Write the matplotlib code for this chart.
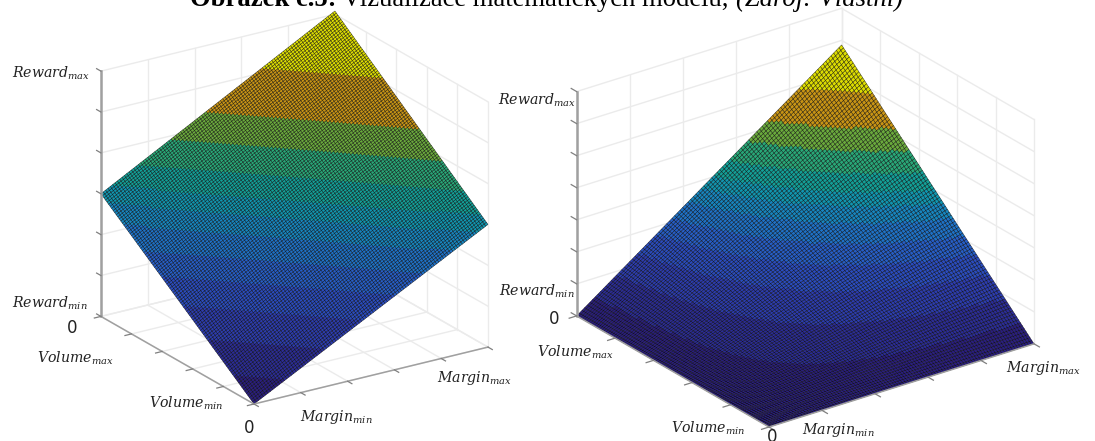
import numpy as np
import matplotlib
matplotlib.use("Agg")
import matplotlib.pyplot as plt
from matplotlib.colors import ListedColormap, BoundaryNorm
from mpl_toolkits.mplot3d import proj3d

W, H = 1095, 441
plt.rcParams['mathtext.fontset'] = 'dejavuserif'

# band limits (fraction of the peak reward) and band colours
levels = [0, .068, .15, .23, .30, .36, .42, .47, .515, .574, .645, .72, .84, 1.001]
band_colors = ['#2a1e80', '#2b2c98', '#2c3cb0', '#2a4cc0', '#265ec8', '#1e72c8', '#1686c0',
               '#1096b0', '#12a098', '#28a878', '#6aaa3c', '#c89414', '#dcdc00']
cmap = ListedColormap(band_colors)
norm = BoundaryNorm(levels, cmap.N)

# surface corner values: (margin_min/volume_min, margin_max, volume_max, both_max)
left_corners = [0, 3, 3, 6.08]
right_corners = [0, 0, 0, 5.86]
left_peak, right_peak = 6.08, 5.86
left_ztop, right_ztop = 6, 7
n_cells = 100
x_ticks = [0, 1, 2, 3, 4, 5]
y_ticks = [0, 1, 2, 3, 4, 5]

GRID = '#ebebeb'
AXC = '#a0a0a0'


def panel(elev, azim, aspect, corners, peak, ztop, O, M):
    ax = fig.add_axes([0, 0, .5, .5], projection='3d', proj_type='ortho')
    ax.computed_zorder = False
    ax.view_init(elev=elev, azim=azim)
    ax.set_box_aspect(aspect)
    ax.set_xlim(0, 5, view_margin=0)
    ax.set_ylim(0, 5, view_margin=0)
    ax.set_zlim(0, ztop, view_margin=0)
    ax.set_axis_off()
    ax.patch.set_alpha(0)

    # walls and floor grid
    for t in x_ticks:
        ax.plot([t, t], [5, 5], [0, ztop], color=GRID, lw=1, zorder=1)
        ax.plot([t, t], [0, 5], [0, 0], color=GRID, lw=1, zorder=1)
    for t in y_ticks:
        ax.plot([5, 5], [t, t], [0, ztop], color=GRID, lw=1, zorder=1)
        ax.plot([0, 5], [t, t], [0, 0], color=GRID, lw=1, zorder=1)
    for t in range(ztop + 1):
        ax.plot([0, 5], [5, 5], [t, t], color=GRID, lw=1, zorder=1)
        ax.plot([5, 5], [0, 5], [t, t], color=GRID, lw=1, zorder=1)

    # surface
    u = np.linspace(0, 5, n_cells + 1)
    X, Y = np.meshgrid(u, u)
    a, b, c, d = corners
    s, r = X / 5, Y / 5
    Z = a * (1 - s) * (1 - r) + b * s * (1 - r) + c * (1 - s) * r + d * s * r
    zc = (Z[:-1, :-1] + Z[1:, 1:]) / 2 / peak
    ax.plot_surface(X, Y, Z, facecolors=cmap(norm(zc)), rstride=1, cstride=1,
                    shade=False, edgecolor='#000000', linewidth=0.25, zorder=2)

    # axes lines and ticks
    ax.plot([0, 0], [5, 5], [0, ztop], color=AXC, lw=1.8, zorder=3)
    ax.plot([0, 5], [0, 0], [0, 0], color=AXC, lw=1.1, zorder=3)
    ax.plot([0, 0], [0, 5], [0, 0], color=AXC, lw=1.1, zorder=3)
    for t in x_ticks:
        ax.plot([t, t], [0, -.14], [0, 0], color='#808080', lw=.9, zorder=3)
    for t in y_ticks:
        ax.plot([0, -.14], [t, t], [0, 0], color='#808080', lw=.9, zorder=3)
    for t in range(ztop + 1):
        ax.plot([0, 0], [5, 5.14], [t, t], color='#808080', lw=.9, zorder=3)

    # place the axes so that the box lands on the target pixels
    P = ax.get_proj()
    xo, yo, _ = proj3d.proj_transform(0, 0, 0, P)
    xm, _, _ = proj3d.proj_transform(5, 0, 0, P)
    x0, x1 = ax.viewLim.intervalx
    y0, y1 = ax.viewLim.intervaly
    S = (M[0] - O[0]) / ((xm - xo) / (x1 - x0))
    L = O[0] - S * (xo - x0) / (x1 - x0)
    B = (H - O[1]) - S * (yo - y0) / (y1 - y0)
    ax.set_position([L / W, B / H, S / W, S / H])
    return ax


def label(x, y, s, size=10.5, **kw):
    fig.text(x / W, 1 - y / H, s, ha='center', va='center', fontsize=size, color='#222222', **kw)


fig = plt.figure(figsize=(W / 100, H / 100), dpi=100)
panel(21.9, 236.9, (280, 281, 265), left_corners, left_peak, left_ztop, (254, 404), (488, 347))
panel(25.2, 233.6, (328, 323, 247), right_corners, right_peak, right_ztop, (769, 427), (1034, 344))

for x, y, s in [(51, 73, '$Reward_{max}$'), (50, 303, '$Reward_{min}$'), (75, 358, '$Volume_{max}$'),
                (186, 403, '$Volume_{min}$'), (336, 417, '$Margin_{min}$'), (475, 378, '$Margin_{max}$'),
                (537, 100, '$Reward_{max}$'), (537, 291, '$Reward_{min}$'), (575, 352, '$Volume_{max}$'),
                (708, 428, '$Volume_{min}$'), (838, 430, '$Margin_{min}$'), (1044, 368, '$Margin_{max}$')]:
    label(x, y, s, size=10.2)
for x, y in [(72, 328), (249, 428), (554, 319), (772, 437)]:
    label(x, y, '0', size=12, family='DejaVu Sans')

# caption, cut by the top edge as in the source
t1 = fig.text(190 / W, 1 - 6 / H, 'Obrázek č.5:', family='Liberation Serif', weight='bold',
              fontsize=19.15, color='black', va='baseline')
a2 = plt.annotate(' Vizualizace matematických modelů, ', xy=(1, 0), xycoords=t1, family='Liberation Serif',
                  fontsize=19.15, color='black', va='bottom', annotation_clip=False)
a3 = plt.annotate('(Zdroj: Vlastní)', xy=(1, 0), xycoords=a2, family='Liberation Serif', style='italic',
                  fontsize=19.15, color='black', va='bottom', annotation_clip=False)

fig.savefig('out.png', dpi=100)
